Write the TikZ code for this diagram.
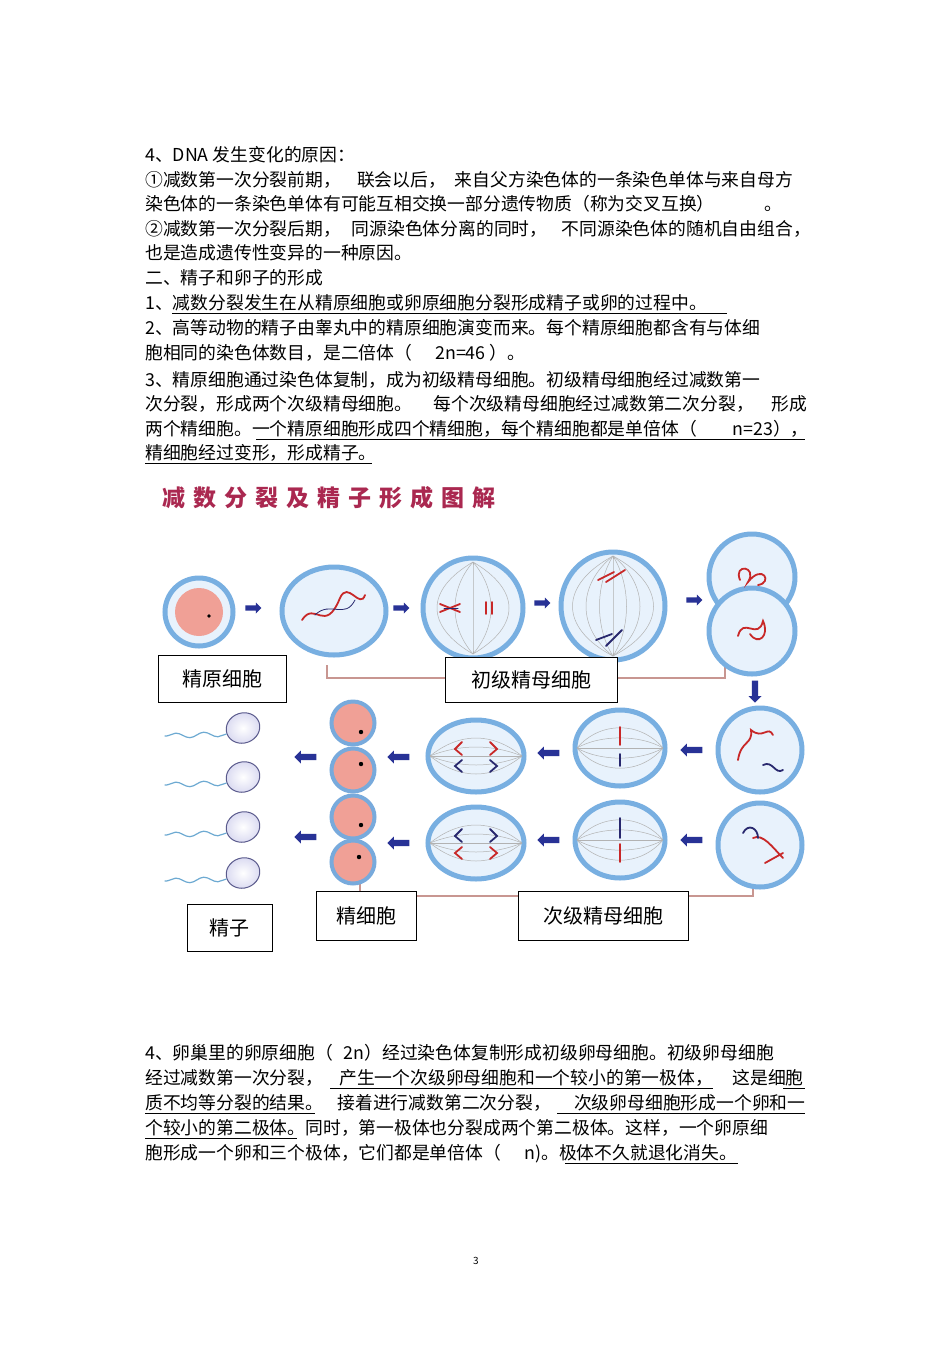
\documentclass[tikz,border=0pt]{standalone}
\usepackage{fontspec}
\setmainfont{Noto Sans CJK SC}
\usetikzlibrary{shapes.arrows,shapes.geometric,decorations.pathmorphing,calc}
\definecolor{cellout}{RGB}{120,175,225}
\definecolor{cellin}{RGB}{232,242,252}
\definecolor{nucl}{RGB}{240,160,150}
\definecolor{spdring}{RGB}{120,170,220}
\definecolor{arrowblue}{RGB}{40,50,150}
\definecolor{brkcol}{RGB}{200,150,145}
\definecolor{chred}{RGB}{200,40,40}
\definecolor{chblue}{RGB}{40,40,110}
\definecolor{titlecol}{RGB}{170,40,80}
\definecolor{spedge}{RGB}{90,90,140}
\definecolor{spfill}{RGB}{215,215,240}
\definecolor{tailcol}{RGB}{110,170,210}
\begin{document}
\begin{tikzpicture}[x=1pt,y=-1pt,
  txt/.style={anchor=base west,inner sep=0pt,font=\fontsize{17.8}{19}\selectfont},
  ul/.style={line width=0.7pt},
  cell/.style={circle,draw=cellout,line width=5pt,fill=cellin,minimum size=#1},
  ecell/.style={ellipse,draw=cellout,line width=5pt,fill=cellin},
  spd/.style={circle,draw=spdring,line width=4pt,fill=nucl,minimum size=43pt,inner sep=0pt},
  barr/.style={single arrow,fill=arrowblue,draw=none,minimum width=13pt,minimum height=22pt,single arrow head extend=2.5pt,inner sep=2pt},
  sarr/.style={barr,minimum width=11pt,minimum height=16pt},
  lbox/.style={draw,line width=0.8pt,fill=white,font=\fontsize{20}{22}\selectfont,inner sep=0pt},
  brk/.style={draw=brkcol,line width=1.2pt},
  chr/.style={draw=chred,line width=1.8pt,line cap=round},
  chb/.style={draw=chblue,line width=1.8pt,line cap=round},
  spin/.style={draw=gray!60,line width=0.5pt}]
\useasboundingbox (0,0) rectangle (950,1345);
\fill[white] (0,0) rectangle (950,1345);
% ---------- top text ----------
\node[txt] (t1) at (145,161) {4、DNA 发生变化的原因：};
\node[txt] (t2) at (145,186) {①减数第一次分裂前期，\hspace{0.9em}联会以后，\hspace{0.5em}来自父方染色体的一条染色单体与来自母方};
\node[txt] (t3) at (145,210) {染色体的一条染色单体有可能互相交换一部分遗传物质（称为交叉互换）\hspace{2.8em}。};
\node[txt] (t4) at (145,235) {②减数第一次分裂后期，\hspace{0.6em}同源染色体分离的同时，\hspace{0.8em}不同源染色体的随机自由组合，};
\node[txt] (t5) at (145,259) {也是造成遗传性变异的一种原因。};
\node[txt] (t6) at (145,284) {二、精子和卵子的形成};
\node[txt] (t7) at (145,309) {1、减数分裂发生在从精原细胞或卵原细胞分裂形成精子或卵的过程中。};
\node[txt] (t8) at (145,334) {2、高等动物的精子由睾丸中的精原细胞演变而来。每个精原细胞都含有与体细};
\node[txt] (t9) at (145,359) {胞相同的染色体数目，是二倍体（\hspace{1.3em}2n=46 ）。};
\node[txt] (t10) at (145,386) {3、精原细胞通过染色体复制，成为初级精母细胞。初级精母细胞经过减数第一};
\node[txt] (t11) at (145,410) {次分裂，形成两个次级精母细胞。\hspace{1.2em}每个次级精母细胞经过减数第二次分裂，\hspace{1em}形成};
\node[txt] (t12) at (145,435) {两个精细胞。一个精原细胞形成四个精细胞，每个精细胞都是单倍体（\hspace{2em}n=23），};
\node[txt] (t13) at (145,459) {精细胞经过变形，形成精子。};
\draw[ul] (172,313)--(727,313);
\draw[ul] (256,439)--(805,439);
\draw[ul] (145,463)--(372,463);
% ---------- title ----------
\node[anchor=west,inner sep=0pt,text=titlecol,font=\fontsize{23}{25}\selectfont\bfseries] (title) at (162,498) {减\hspace{0.35em}数\hspace{0.35em}分\hspace{0.35em}裂\hspace{0.35em}及\hspace{0.35em}精\hspace{0.35em}子\hspace{0.35em}形\hspace{0.35em}成\hspace{0.35em}图\hspace{0.35em}解};
% ---------- brackets ----------
\draw[brk] (327,665)--(327,678)--(725,678)--(725,662);
\draw[brk] (360,880)--(360,896)--(753,896)--(753,880);
% ---------- row 1 ----------
\node[cell=68pt] (c1) at (199,612) {};
\fill[nucl] (199,612) circle (24);
\fill (209,616) circle (1.8);
\node[ecell,minimum width=104pt,minimum height=88pt] (c2) at (334,611) {};
\draw[chr] (302,620) .. controls (315,600) and (325,635) .. (340,598) .. controls (348,580) and (360,610) .. (365,595);
\draw[chb,line width=0.8pt] (315,615) .. controls (330,600) and (345,620) .. (355,600);
\node[cell=100pt] (c3) at (473,608) {};
\foreach \a in {-30,-15,0,15,30} {\draw[spin] (473,562) .. controls ({473+\a*1.6},590) and ({473+\a*1.6},626) .. (473,654);}
\draw[chr] (440,604)--(460,612) (440,612)--(460,604);
\draw[chb,line width=1pt] (444,608)--(458,608);
\draw[chr] (486,602)--(486,614) (492,602)--(492,614);
\node[ecell,minimum width=104pt,minimum height=108pt] (c4) at (613,606) {};
\foreach \a in {-36,-24,-12,0,12,24,36} {\draw[spin] (613,556) .. controls ({613+\a*1.5},585) and ({613+\a*1.5},628) .. (613,656);}
\draw[chr] (598,580)--(614,572) (606,582)--(625,570);
\draw[chb] (596,640)--(612,634) (606,646)--(622,630);
\node[cell=86pt] (c5a) at (752,577) {};
\node[cell=86pt] (c5b) at (752,631) {};
\fill[cellin] (725,603) rectangle (779,606);
\draw[chr] (740,580) .. controls (733,563) and (758,566) .. (748,582) .. controls (763,563) and (773,583) .. (758,585);
\draw[chr] (738,636) .. controls (743,616) and (758,641) .. (763,621) .. controls (770,636) and (758,646) .. (750,634);
\node[sarr] (a1) at (252,608) {};
\node[sarr] (a2) at (400,608) {};
\node[sarr] (a3) at (541,603) {};
\node[sarr] (a4) at (693,600) {};
\node[barr,rotate=-90] (a5) at (755,690) {};
% ---------- row 2 ----------
\node[cell=84pt] (d1) at (760,750) {};
\draw[chr] (738,760) .. controls (741,740) and (753,745) .. (751,730) .. controls (763,740) and (768,725) .. (773,735);
\draw[chb] (763,765) .. controls (773,760) and (775,775) .. (783,770);
\node[ecell,minimum width=90pt,minimum height=76pt] (d2) at (620,748) {};
\foreach \a in {-30,-15,0,15,30} {\draw[spin] (577,748) .. controls (600,{748+\a*0.9}) and (640,{748+\a*0.9}) .. (663,748);}
\draw[chr] (620,727)--(620,745); \draw[chb] (620,754)--(620,766);
\node[ecell,minimum width=96pt,minimum height=72pt] (d3) at (476,756) {};
\foreach \a in {-24,-12,0,12,24} {\draw[spin] (430,756) .. controls (460,{756+\a}) and (492,{756+\a}) .. (522,756);}
\draw[chr] (462,742)--(455,749)--(462,755) (490,742)--(497,749)--(490,755);
\draw[chb] (462,760)--(455,766)--(462,772) (490,760)--(497,766)--(490,772);
\node[spd] (s1) at (353,723) {};
\node[spd] (s2) at (353,770) {};
\node[barr,rotate=180] (b1) at (693,750) {};
\node[barr,rotate=180] (b2) at (550,753) {};
\node[barr,rotate=180] (b3) at (400,757) {};
\node[barr,rotate=180] (b4) at (307,757) {};
% ---------- row 3 ----------
\node[cell=84pt] (e1) at (760,845) {};
\draw[chr] (753,838) .. controls (763,833) and (773,848) .. (783,858) (765,863)--(783,853);
\draw[chb] (743,833) .. controls (748,823) and (758,828) .. (758,838);
\node[ecell,minimum width=90pt,minimum height=76pt] (e2) at (620,840) {};
\foreach \a in {-30,-15,0,15,30} {\draw[spin] (577,840) .. controls (600,{840+\a*0.9}) and (640,{840+\a*0.9}) .. (663,840);}
\draw[chb] (620,818)--(620,838); \draw[chr] (620,844)--(620,862);
\node[ecell,minimum width=96pt,minimum height=72pt] (e3) at (476,843) {};
\foreach \a in {-24,-12,0,12,24} {\draw[spin] (430,843) .. controls (460,{843+\a}) and (492,{843+\a}) .. (522,843);}
\draw[chb] (462,829)--(455,836)--(462,842) (490,829)--(497,836)--(490,842);
\draw[chr] (462,847)--(455,853)--(462,859) (490,847)--(497,853)--(490,859);
\node[spd] (s3) at (353,817) {};
\node[spd] (s4) at (353,862) {};
\node[barr,rotate=180] (f1) at (693,840) {};
\node[barr,rotate=180] (f2) at (550,840) {};
\node[barr,rotate=180] (f3) at (400,843) {};
\node[barr,rotate=180] (f4) at (307,837) {};
\fill ($(s1)+(8,9)$) circle (2.2);
\fill ($(s2)+(8,-6)$) circle (2.2);
\fill ($(s3)+(8,8)$) circle (2.2);
\fill ($(s4)+(6,-5)$) circle (2.2);
% ---------- sperm ----------
\foreach \i/\x/\y in {1/243/728,2/243/777,3/243/827,4/243/873} {
  \node[ellipse,draw=spedge,line width=1pt,inner color=white,outer color=spfill,minimum width=34pt,minimum height=30pt,rotate=20] (sp\i) at (\x,\y) {};
  \draw[tailcol,line width=1.2pt,decorate,decoration={snake,amplitude=2.5pt,segment length=28pt}] (sp\i.west) -- ++(-62,2);
}
% ---------- label boxes ----------
\node[lbox,minimum width=128pt,minimum height=47pt] (L1) at (222,678.5) {精原细胞};
\node[lbox,minimum width=172pt,minimum height=45pt] (L2) at (531,679.5) {初级精母细胞};
\node[lbox,minimum width=85pt,minimum height=47pt] (L3) at (229.5,927.5) {\raisebox{-6pt}{精子}};
\node[lbox,minimum width=100pt,minimum height=49pt] (L4) at (366,915.5) {精细胞};
\node[lbox,minimum width=170pt,minimum height=49pt] (L5) at (603,915.5) {次级精母细胞};
% ---------- bottom text ----------
\node[txt] (u1) at (145,1059) {4、卵巢里的卵原细胞（\hspace{0.6em}2n）经过染色体复制形成初级卵母细胞。初级卵母细胞};
\node[txt] (u2) at (145,1084) {经过减数第一次分裂，\hspace{0.9em}产生一个次级卵母细胞和一个较小的第一极体，\hspace{1.1em}这是细胞};
\node[txt] (u3) at (145,1109) {质不均等分裂的结果。\hspace{0.8em}接着进行减数第二次分裂，\hspace{1.3em}次级卵母细胞形成一个卵和一};
\node[txt] (u4) at (145,1134) {个较小的第二极体。同时，第一极体也分裂成两个第二极体。这样，一个卵原细};
\node[txt] (u5) at (145,1159) {胞形成一个卵和三个极体，它们都是单倍体（\hspace{1.3em}n)。极体不久就退化消失。};
\draw[ul] (330,1088)--(713,1088);
\draw[ul] (783,1088)--(805,1088);
\draw[ul] (145,1113)--(315,1113);
\draw[ul] (557,1113)--(805,1113);
\draw[ul] (145,1138)--(297,1138);
\draw[ul] (565,1163)--(738,1163);
\node[font=\fontsize{10}{12}\selectfont,inner sep=0pt] (pg) at (476,1261) {3};
\end{tikzpicture}
\end{document}
